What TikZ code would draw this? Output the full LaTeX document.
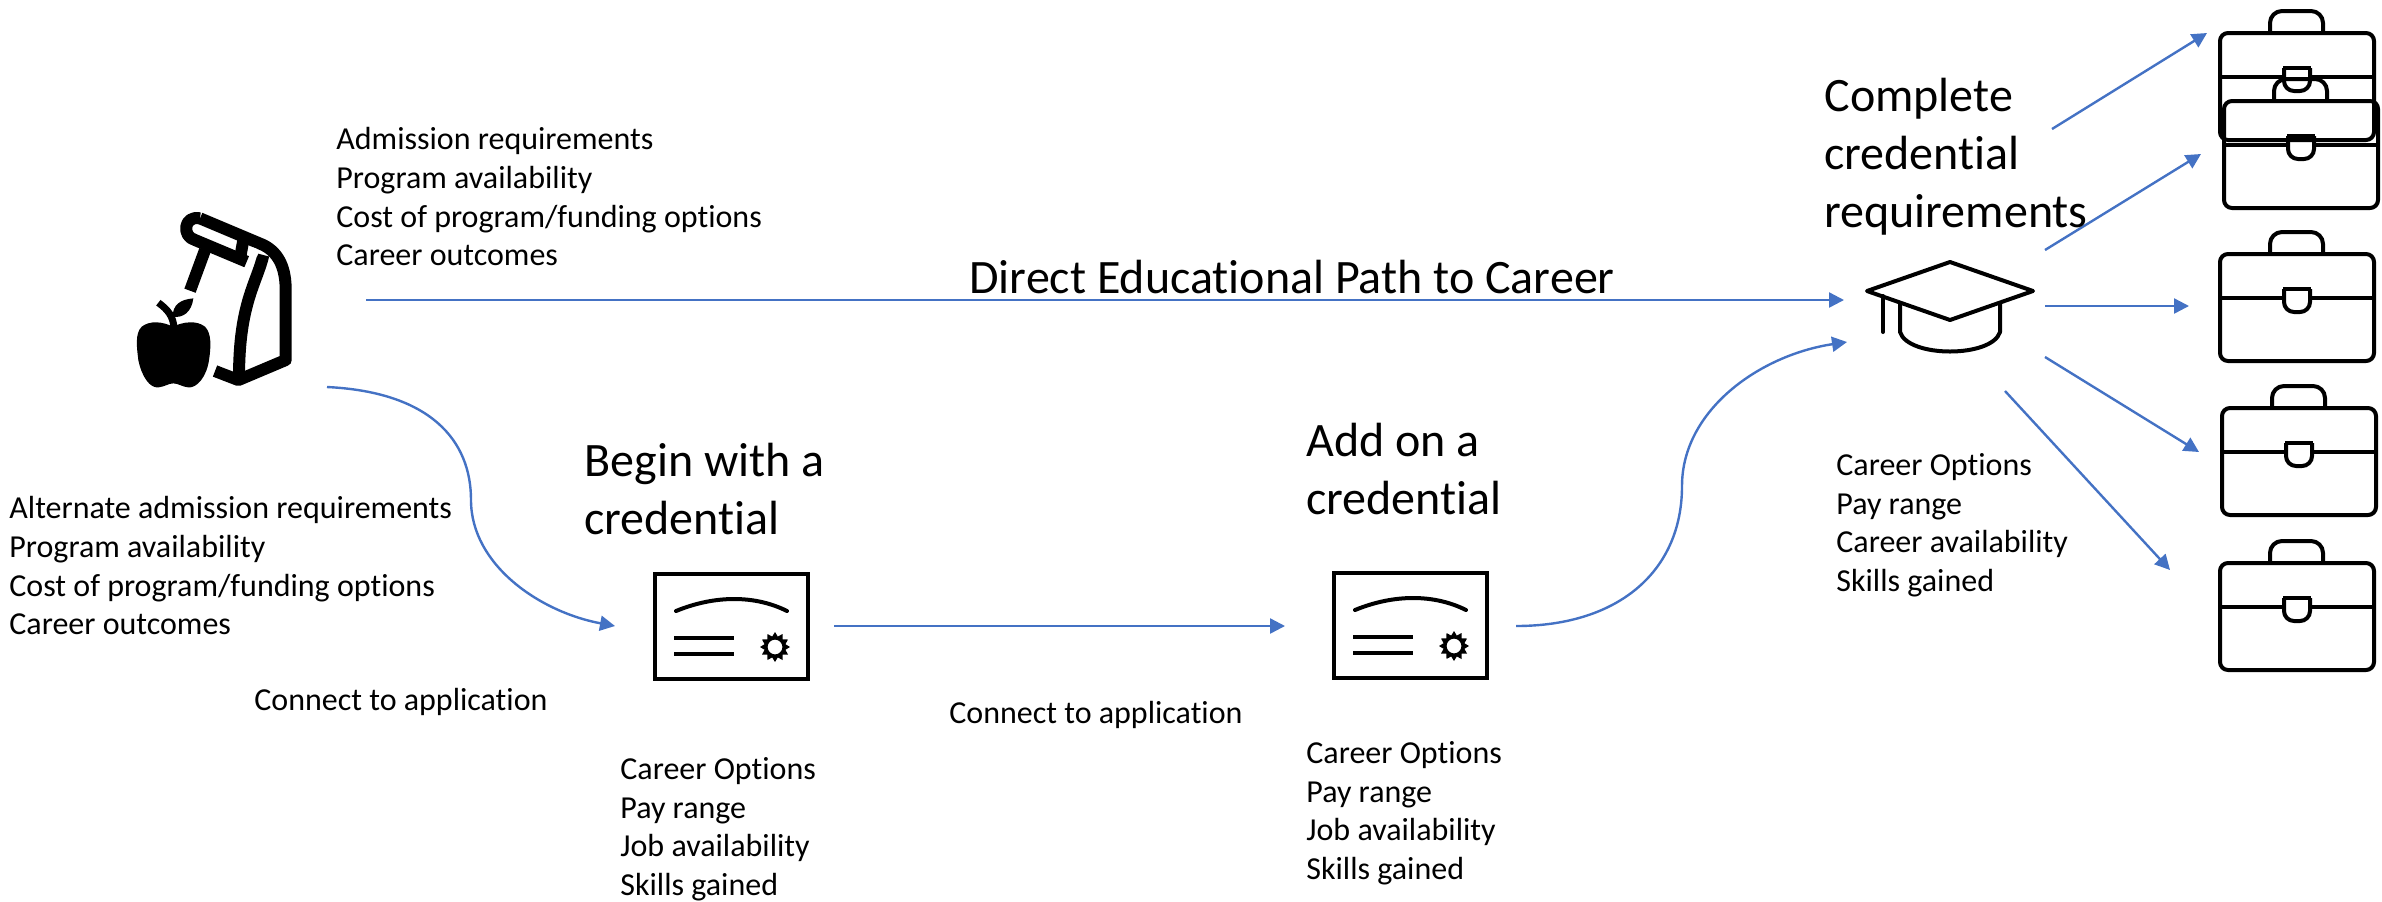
\documentclass[tikz,border=0pt]{standalone}
\usepackage{fontspec}
\setmainfont[RawFeature={-liga;-clig;-calt;-dlig}]{Carlito}
\usetikzlibrary{arrows.meta,calc}
\definecolor{arrowblue}{HTML}{4472C4}
\tikzset{
  flow/.style={draw=arrowblue,line width=1.2pt,-{Triangle[length=7.5pt,width=7.5pt]}},
  small/.style={inner sep=0pt,anchor=north west,align=left,font=\fontsize{16}{19.35}\selectfont},
  big/.style={inner sep=0pt,anchor=north west,align=left,font=\fontsize{24}{29}\selectfont},
  icon/.style={draw=black,line width=2pt,line join=round},
  pics/briefcase/.style={code={
    \draw[icon,rounded corners=4pt] (0,0) rectangle (154,107);
    \draw[icon,rounded corners=6pt] (50,0) -- (50,-22) -- (103,-22) -- (103,0);
    \draw[icon] (0,44) -- (64,44) (90,44) -- (154,44);
    \draw[icon,rounded corners=5pt] (64,35) -- (64,58) -- (90,58) -- (90,35);
    \draw[icon] (63,35) -- (91,35);
  }},
  pics/certificate/.style={code={
    \draw[draw=black,line width=2pt] (0,0) rectangle (153,105);
    \draw[draw=black,line width=2pt,line cap=round] (21,37) .. controls (60,21) and (100,21) .. (132,37);
    \draw[draw=black,line width=2pt] (19,64) -- (79,64) (19,80) -- (79,80);
    \fill[black,even odd rule]
      (135,73) -- (130.4,75.8) -- (133,80.5) -- (127.6,80.6) -- (127.5,86) -- (122.8,83.4) -- (120,88) -- (117.2,83.4) -- (112.5,86) -- (112.4,80.6) -- (107,80.5) -- (109.6,75.8) -- (105,73) -- (109.6,70.2) -- (107,65.5) -- (112.4,65.4) -- (112.5,60) -- (117.2,62.6) -- (120,58) -- (122.8,62.6) -- (127.5,60) -- (127.6,65.4) -- (133,65.5) -- (130.4,70.2) -- cycle
      (120,73) circle (3.7pt);
  }}
}
\begin{document}
\begin{tikzpicture}[x=0.5pt,y=-0.5pt]
\useasboundingbox (0,0) rectangle (2382,901);
% Lunch bag
\begin{scope}[shift={(100,180)},x=0.1667pt,y=-0.1667pt]
  \draw[black,line width=6pt,line join=round] (300,115) -- (490,195) .. controls (540,220) and (557,270) .. (557,330) -- (557,540) -- (415,600) -- (345,573);
  \draw[black,line width=6pt,line join=round] (300,115) .. controls (250,105) and (245,170) .. (285,180) -- (440,245);
  \draw[black,line width=6pt] (430,180) -- (420,235);
  \draw[black,line width=6pt] (315,210) -- (270,332);
  \draw[black,line width=6pt] (490,225) .. controls (470,310) and (417,370) .. (417,590);
  \fill[white] (460,218) circle (2.6pt);
  \fill[black] (218,440) .. controls (190,425) and (150,420) .. (125,440) .. controls (105,460) and (110,500) .. (115,540) .. controls (125,590) and (150,625) .. (175,622) .. controls (195,620) and (205,610) .. (220,610) .. controls (235,610) and (245,620) .. (265,622) .. controls (290,625) and (320,590) .. (327,540) .. controls (333,500) and (335,460) .. (315,440) .. controls (290,420) and (250,425) .. (218,440) -- cycle;
  \draw[black,line width=3.5pt] (175,368) .. controls (205,390) and (220,410) .. (222,445);
  \fill[black] (280,355) .. controls (240,358) and (218,375) .. (218,410) .. controls (250,415) and (275,395) .. (280,355) -- cycle;
\end{scope}
% Certificates
\pic at (655,574) {certificate};
\pic at (1334,573) {certificate};
% Graduation cap
\draw[icon] (1950,262) -- (2033,291) -- (1950,320) -- (1867,291) -- cycle;
\draw[icon,line cap=round] (1883,296) -- (1883,332);
\draw[icon] (1900,302) -- (1900,332) .. controls (1908,358) and (1992,358) .. (2000,332) -- (2000,302);
% Briefcases
\pic at (2220,33) {briefcase};
\pic at (2224,101) {briefcase};
\pic at (2220,254) {briefcase};
\pic at (2222,408) {briefcase};
\pic at (2220,563) {briefcase};
% Coordinates for connector ends
\coordinate (bagR) at (366,300);
\coordinate (capL) at (1844,300);
\coordinate (bagB) at (327,387);
\coordinate (bend1) at (471,500);
\coordinate (certAin) at (615,626);
\coordinate (certAout) at (834,626);
\coordinate (certBin) at (1285,626);
\coordinate (certBout) at (1516,626);
\coordinate (bend2) at (1682,486);
\coordinate (capL2) at (1847,342);
\coordinate (a1s) at (2052,129); \coordinate (a1e) at (2207,33);
\coordinate (a2s) at (2045,250); \coordinate (a2e) at (2201,154);
\coordinate (a3s) at (2045,306); \coordinate (a3e) at (2189,306);
\coordinate (a4s) at (2045,357); \coordinate (a4e) at (2199,452);
\coordinate (a5s) at (2005,391); \coordinate (a5e) at (2170,570);
% Connectors
\draw[flow] (bagR) -- (capL);
\draw[flow] (bagB) .. controls (430,392) and (471,440) .. (bend1) .. controls (471,565) and (540,612) .. (certAin);
\draw[flow] (certAout) -- (certBin);
\draw[flow] (certBout) .. controls (1620,626) and (1682,570) .. (bend2) .. controls (1682,410) and (1760,355) .. (capL2);
\draw[flow] (a1s) -- (a1e);
\draw[flow] (a2s) -- (a2e);
\draw[flow] (a3s) -- (a3e);
\draw[flow] (a4s) -- (a4e);
\draw[flow] (a5s) -- (a5e);
% Texts
\node[small] (t1) at (336,127) {Admission requirements\\Program availability\\Cost of program/funding options\\Career outcomes};
\node[small] (t2) at (9,496) {Alternate admission requirements\\Program availability\\Cost of program/funding options\\Career outcomes};
\node[small] (t3) at (254,688) {Connect to application};
\node[small] (t4) at (949,701) {Connect to application};
\node[small] (t5) at (620,757) {Career Options\\Pay range\\Job availability\\Skills gained};
\node[small] (t6) at (1306,741) {Career Options\\Pay range\\Job availability\\Skills gained};
\node[small] (t7) at (1836,453) {Career Options\\Pay range\\Career availability\\Skills gained};
\node[big] (t8) at (584,443) {Begin with a\\credential};
\node[big] (t9) at (1306,423) {Add on a\\credential};
\node[big] (t10) at (1824,78) {Complete\\credential\\requirements};
\node[big] (t11) at (969,260) {Direct Educational Path to Career};
\end{tikzpicture}
\end{document}
